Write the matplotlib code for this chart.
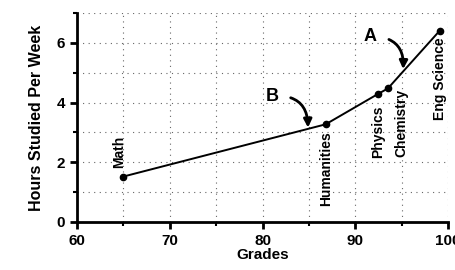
import numpy as np
import matplotlib.pyplot as plt

plt.rcParams['font.family'] = ['Liberation Sans', 'DejaVu Sans']
plt.rcParams['font.weight'] = 'bold'

# data
subjects = ['Math', 'Humanities', 'Physics', 'Chemistry', 'Eng Science']
grades = [65.0, 86.8, 92.4, 93.5, 99.1]
hours = [1.52, 3.27, 4.28, 4.47, 6.41]

# label offsets in points (dx, dy) and vertical alignment
lab_off = [(-3, 6, 'bottom'), (0, -5, 'top'), (0, -8, 'top'), (10, 0, 'top'), (0, -5, 'top')]

# A / B callouts: text position, arrow tip
notes = ['A', 'B']
note_xy = [(91.6, 6.2), (81.0, 4.2)]
tip_xy = [(95.15, 5.12), (84.9, 3.16)]

fig = plt.figure(figsize=(4.55, 2.7), dpi=100)
ax = fig.add_axes([0.169, 0.178, 0.816, 0.774])

ax.plot(grades, hours, 'k-', lw=1.4, marker='o', ms=4.5)

for s, x, y, (dx, dy, va) in zip(subjects, grades, hours, lab_off):
    ax.annotate(s, (x, y), xytext=(dx, dy), textcoords='offset points',
                rotation=90, ha='center', va=va, fontsize=10, fontweight='bold')

for n, (tx, ty), (px, py) in zip(notes, note_xy, tip_xy):
    ax.annotate(n, (px, py), xytext=(tx, ty), fontsize=13, fontweight='bold',
                ha='center', va='center',
                arrowprops=dict(arrowstyle='-|>', color='k', lw=2,
                                connectionstyle='arc3,rad=-0.55',
                                shrinkA=7, shrinkB=0, mutation_scale=12))

ax.set_xlim(60, 100)
ax.set_ylim(0, 7)
ax.set_xticks(np.arange(60, 101, 10))
ax.set_xticks(np.arange(65, 100, 10), minor=True)
ax.set_yticks(np.arange(0, 7, 2))
ax.set_yticks(np.arange(1, 8, 2), minor=True)
ax.grid(True, which='both', ls=(0, (1, 4)), color='#666666', lw=0.8)

for sp in ['top', 'right']:
    ax.spines[sp].set_visible(False)
for sp in ['left', 'bottom']:
    ax.spines[sp].set_linewidth(2)
ax.tick_params(which='major', direction='out', length=5, width=2, labelsize=11)
ax.tick_params(which='minor', direction='out', length=3, width=1.5)

ax.set_xlabel('Grades', fontsize=11, fontweight='bold', labelpad=0)
ax.set_ylabel('Hours Studied Per Week', fontsize=11.5, fontweight='bold', labelpad=9)

fig.savefig('out.png', dpi=100)
